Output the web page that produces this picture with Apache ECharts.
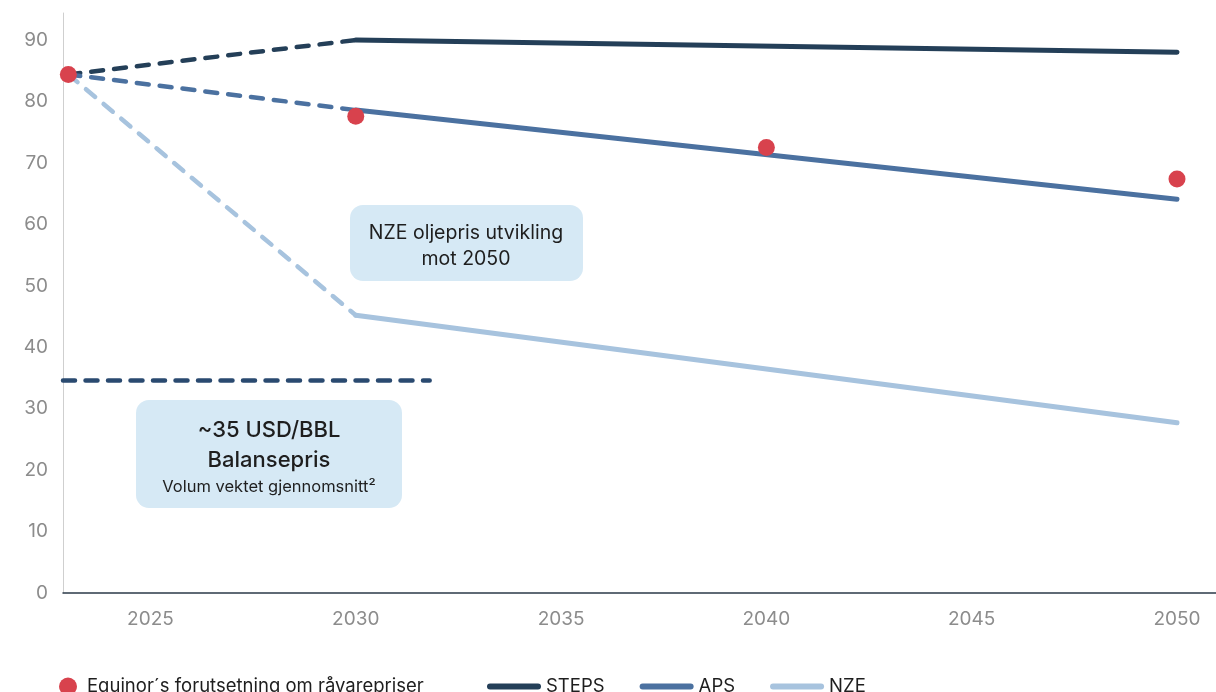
<!DOCTYPE html>
<html>
<head>
<meta charset="utf-8">
<style>html,body{margin:0;padding:0;background:#fff;}#c{width:1216px;height:692px;}</style>
<script src="https://cdn.jsdelivr.net/npm/echarts@6/dist/echarts.min.js"></script>
</head>
<body>
<div id="c"></div>
<script>
// ---- data ----
const scenarioYears = [2023, 2030, 2050];
const stepsValues = [84.4, 90.0, 88.0];
const apsValues = [84.4, 78.6, 64.1];
const nzeValues = [84.4, 45.2, 27.7];
const equinorYears = [2023, 2030, 2040, 2050];
const equinorValues = [84.4, 77.6, 72.5, 67.4];
const breakEvenYears = [2022.87, 2031.8];
const breakEvenValue = 34.6;
const xTickLabels = [2025, 2030, 2035, 2040, 2045, 2050];
const yTickLabels = [0, 10, 20, 30, 40, 50, 60, 70, 80, 90];
const equinorName = 'Equinor´s forutsetning om råvarepriser';

const colors = {steps: '#243f58', aps: '#4b71a0', nze: '#a7c3de', red: '#d8424d', box: '#d6e9f5'};
const FONT = 'Inter, "Noto Sans", sans-serif';
const capsule = 'path://M3,0 L51,0 A3,3 0 0 1 51,6 L3,6 A3,3 0 0 1 3,0 Z';

function pairs(xs, ys, from, to) {
  const out = [];
  for (let i = from; i <= to; i++) out.push([xs[i], ys[i]]);
  return out;
}
function scenario(name, values, color) {
  return [
    {name: name + ' (historikk)', type: 'line', data: pairs(scenarioYears, values, 0, 1), symbol: 'none',
     lineStyle: {color, width: 4.5, type: [12, 11], cap: 'round'}, z: 2, silent: true},
    {name, type: 'line', data: pairs(scenarioYears, values, 1, 2), symbol: 'none', itemStyle: {color},
     lineStyle: {color, width: 5, cap: 'round'}, z: 2, silent: true}
  ];
}

const chart = echarts.init(document.getElementById('c'), null, {renderer: 'canvas'});
chart.setOption({
  animation: false,
  textStyle: {fontFamily: FONT},
  grid: {left: 63, right: 0, top: 13, bottom: 99, containLabel: false},
  xAxis: {
    type: 'value', min: 2022.87, max: 2050.95,
    axisLine: {show: true, lineStyle: {color: '#2b3a48', width: 1.5}},
    axisTick: {show: false},
    splitLine: {show: false},
    axisLabel: {customValues: xTickLabels, color: '#8c8c8c', fontSize: 19, margin: 17, fontFamily: FONT,
      formatter: v => String(v)}
  },
  yAxis: {
    type: 'value', min: 0, max: 94.4,
    axisLine: {show: true, lineStyle: {color: '#cfcfcf', width: 1}},
    axisTick: {show: false},
    splitLine: {show: false},
    axisLabel: {customValues: yTickLabels, color: '#8c8c8c', fontSize: 19, margin: 15, fontFamily: FONT}
  },
  legend: [
    {data: [{name: equinorName, icon: 'circle', itemStyle: {color: colors.red, opacity: 1}}], left: 54, top: 672, itemWidth: 18, itemHeight: 18, itemGap: 10,
     textStyle: {fontSize: 18.5, color: '#1e1e1e', fontFamily: FONT, padding: [0, 0, 0, 5]}, selectedMode: false},
    {data: [
      {name: 'STEPS', icon: capsule, itemStyle: {color: colors.steps}},
      {name: 'APS', icon: capsule, itemStyle: {color: colors.aps}},
      {name: 'NZE', icon: capsule, itemStyle: {color: colors.nze}}
     ], left: 482, top: 672, itemWidth: 54, itemHeight: 6, itemGap: 35,
     textStyle: {fontSize: 18.5, color: '#1e1e1e', fontFamily: FONT}, selectedMode: false}
  ],
  graphic: [
    {type: 'rect', left: 350, top: 205, shape: {width: 233, height: 76, r: 13}, style: {fill: colors.box}, z: 1},
    {type: 'text', x: 466, y: 220, style: {text: 'NZE oljepris utvikling\nmot 2050', fill: '#1e1e1e', font: '19.5px ' + FONT, align: 'center', lineHeight: 26}, z: 3},
    {type: 'rect', left: 136, top: 400, shape: {width: 266, height: 108, r: 13}, style: {fill: colors.box}, z: 1},
    {type: 'text', x: 269, y: 419, style: {text: '~35 USD/BBL', fill: '#1e1e1e', font: '500 22px ' + FONT, align: 'center'}, z: 3},
    {type: 'text', x: 269, y: 449, style: {text: 'Balansepris', fill: '#1e1e1e', font: '500 22px ' + FONT, align: 'center'}, z: 3},
    {type: 'text', x: 269, y: 479, style: {text: 'Volum vektet gjennomsnitt²', fill: '#1e1e1e', font: '16.5px ' + FONT, align: 'center'}, z: 3}
  ],
  series: [
    ...scenario('STEPS', stepsValues, colors.steps),
    ...scenario('APS', apsValues, colors.aps),
    ...scenario('NZE', nzeValues, colors.nze),
    {name: 'Balansepris', type: 'line', data: breakEvenYears.map(x => [x, breakEvenValue]), symbol: 'none',
     lineStyle: {color: '#2a4a70', width: 4.5, type: [12, 10.5], cap: 'round'}, z: 2, silent: true},
    {name: equinorName, type: 'scatter', data: equinorYears.map((x, i) => [x, equinorValues[i]]), symbol: 'circle',
     symbolSize: 17, itemStyle: {color: colors.red, opacity: 1}, z: 5, silent: true}
  ]
});
</script>
</body>
</html>
